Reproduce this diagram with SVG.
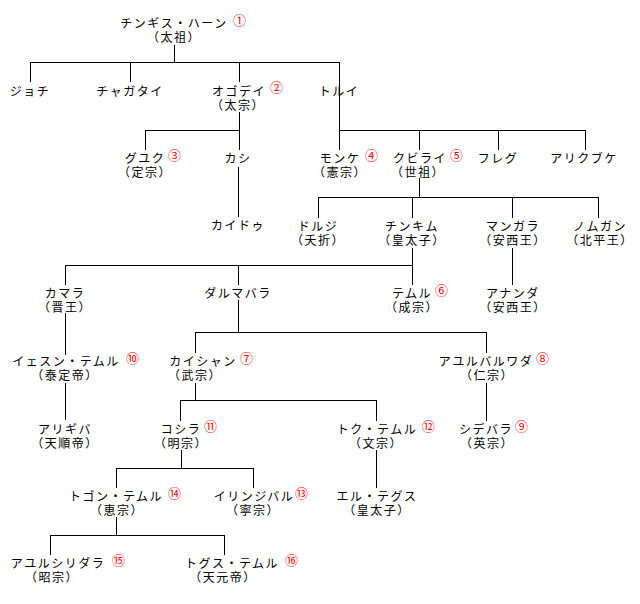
<svg xmlns="http://www.w3.org/2000/svg" width="640" height="604" viewBox="0 0 640 604">
<style>
.t{font-family:"Noto Sans CJK JP","Noto Sans CJK SC",sans-serif;font-size:12px;letter-spacing:1.5px;text-anchor:middle;fill:#000}
.n{font-family:"Noto Sans CJK JP","Noto Sans CJK SC",sans-serif;font-size:13px;fill:#f00}
.c{fill:none;stroke:#000;stroke-width:1;shape-rendering:crispEdges}
</style>
<rect width="640" height="604" fill="#fff"/>
<g id="connectors" class="c">
<path d="M174 45V62M30 62H339M30 62V82M130 62V82M239 62V82M339 62V150"/>
<path d="M239 112V150M145 130H239M145 130V150"/>
<path d="M339 130H585M419 130V150M498 130V150M585 130V150"/>
<path d="M238 167V217"/>
<path d="M419 178V197M318 197H598M318 197V218M412 197V218M512 197V218M598 197V218"/>
<path d="M412 248V285M65 265H412M65 265V285M238 265V285"/>
<path d="M512 248V285"/>
<path d="M65 313V355"/>
<path d="M238 300V332M195 332H486M195 332V353M486 332V353"/>
<path d="M65 383V420"/>
<path d="M195 383V400M180 400H376M180 400V421M376 400V421"/>
<path d="M486 383V421"/>
<path d="M181 450V468M116 468H253M116 468V488M253 468V488"/>
<path d="M376 450V488"/>
<path d="M116 517V535M50 535H224M50 535V555M224 535V555"/>
</g>
<g id="genghis"><text class="t"><tspan x="174" y="28">チンギス・ハーン</tspan><tspan x="174" y="42">（太祖）</tspan></text><text class="n" x="233" y="25">①</text></g>
<g id="jochi"><text class="t" x="30" y="96">ジョチ</text></g>
<g id="chagatai"><text class="t" x="130" y="96">チャガタイ</text></g>
<g id="ogedei"><text class="t"><tspan x="239" y="96">オゴデイ</tspan><tspan x="238" y="110">（太宗）</tspan></text><text class="n" x="270" y="92">②</text></g>
<g id="tolui"><text class="t" x="339" y="96">トルイ</text></g>
<g id="guyuk"><text class="t"><tspan x="145" y="163">グユク</tspan><tspan x="145" y="177">（定宗）</tspan></text><text class="n" x="168" y="160">③</text></g>
<g id="kashi"><text class="t" x="238" y="163">カシ</text></g>
<g id="kaidu"><text class="t" x="238" y="230">カイドゥ</text></g>
<g id="mongke"><text class="t"><tspan x="340" y="163">モンケ</tspan><tspan x="340" y="177">（憲宗）</tspan></text><text class="n" x="365" y="160">④</text></g>
<g id="kublai"><text class="t"><tspan x="420" y="163">クビライ</tspan><tspan x="418" y="177">（世祖）</tspan></text><text class="n" x="450" y="160">⑤</text></g>
<g id="hulegu"><text class="t" x="498" y="163">フレグ</text></g>
<g id="ariqboke"><text class="t" x="584" y="163">アリクブケ</text></g>
<g id="dorji"><text class="t"><tspan x="318" y="231">ドルジ</tspan><tspan x="318" y="245">（夭折）</tspan></text></g>
<g id="zhenjin"><text class="t"><tspan x="412" y="231">チンキム</tspan><tspan x="412" y="245">（皇太子）</tspan></text></g>
<g id="manggala"><text class="t"><tspan x="513" y="231">マンガラ</tspan><tspan x="513" y="245">（安西王）</tspan></text></g>
<g id="nomugan"><text class="t"><tspan x="600" y="231">ノムガン</tspan><tspan x="600" y="245">（北平王）</tspan></text></g>
<g id="kammala"><text class="t"><tspan x="65" y="298">カマラ</tspan><tspan x="65" y="312">（晋王）</tspan></text></g>
<g id="darmabala"><text class="t" x="238" y="298">ダルマバラ</text></g>
<g id="temur"><text class="t"><tspan x="412" y="298">テムル</tspan><tspan x="412" y="312">（成宗）</tspan></text><text class="n" x="435" y="295">⑥</text></g>
<g id="ananda"><text class="t"><tspan x="513" y="298">アナンダ</tspan><tspan x="513" y="312">（安西王）</tspan></text></g>
<g id="yesun"><text class="t"><tspan x="66" y="366">イェスン・テムル</tspan><tspan x="65" y="380">（泰定帝）</tspan></text><text class="n" x="126" y="363">⑩</text></g>
<g id="khaishan"><text class="t"><tspan x="203" y="366">カイシャン</tspan><tspan x="195" y="380">（武宗）</tspan></text><text class="n" x="240" y="363">⑦</text></g>
<g id="ayurbarwada"><text class="t"><tspan x="486" y="366">アユルバルワダ</tspan><tspan x="487" y="380">（仁宗）</tspan></text><text class="n" x="536" y="363">⑧</text></g>
<g id="ragibagh"><text class="t"><tspan x="65" y="434">アリギバ</tspan><tspan x="65" y="448">（天順帝）</tspan></text></g>
<g id="kusala"><text class="t"><tspan x="181" y="434">コシラ</tspan><tspan x="181" y="448">（明宗）</tspan></text><text class="n" x="204" y="431">⑪</text></g>
<g id="toghtemur"><text class="t"><tspan x="377" y="434">トク・テムル</tspan><tspan x="376" y="448">（文宗）</tspan></text><text class="n" x="422" y="431">⑫</text></g>
<g id="shidebala"><text class="t"><tspan x="486" y="434">シデバラ</tspan><tspan x="487" y="448">（英宗）</tspan></text><text class="n" x="515" y="431">⑨</text></g>
<g id="toghontemur"><text class="t"><tspan x="116" y="501">トゴン・テムル</tspan><tspan x="117" y="515">（恵宗）</tspan></text><text class="n" x="168" y="498">⑭</text></g>
<g id="irinjibal"><text class="t"><tspan x="254" y="501">イリンジバル</tspan><tspan x="253" y="515">（寧宗）</tspan></text><text class="n" x="295" y="498">⑬</text></g>
<g id="eltegus"><text class="t"><tspan x="377" y="501">エル・テグス</tspan><tspan x="377" y="515">（皇太子）</tspan></text></g>
<g id="ayushiridara"><text class="t"><tspan x="58" y="568">アユルシリダラ</tspan><tspan x="52" y="582">（昭宗）</tspan></text><text class="n" x="112" y="565">⑮</text></g>
<g id="toguztemur"><text class="t"><tspan x="232" y="568">トグス・テムル</tspan><tspan x="223" y="582">（天元帝）</tspan></text><text class="n" x="285" y="565">⑯</text></g>
</svg>
